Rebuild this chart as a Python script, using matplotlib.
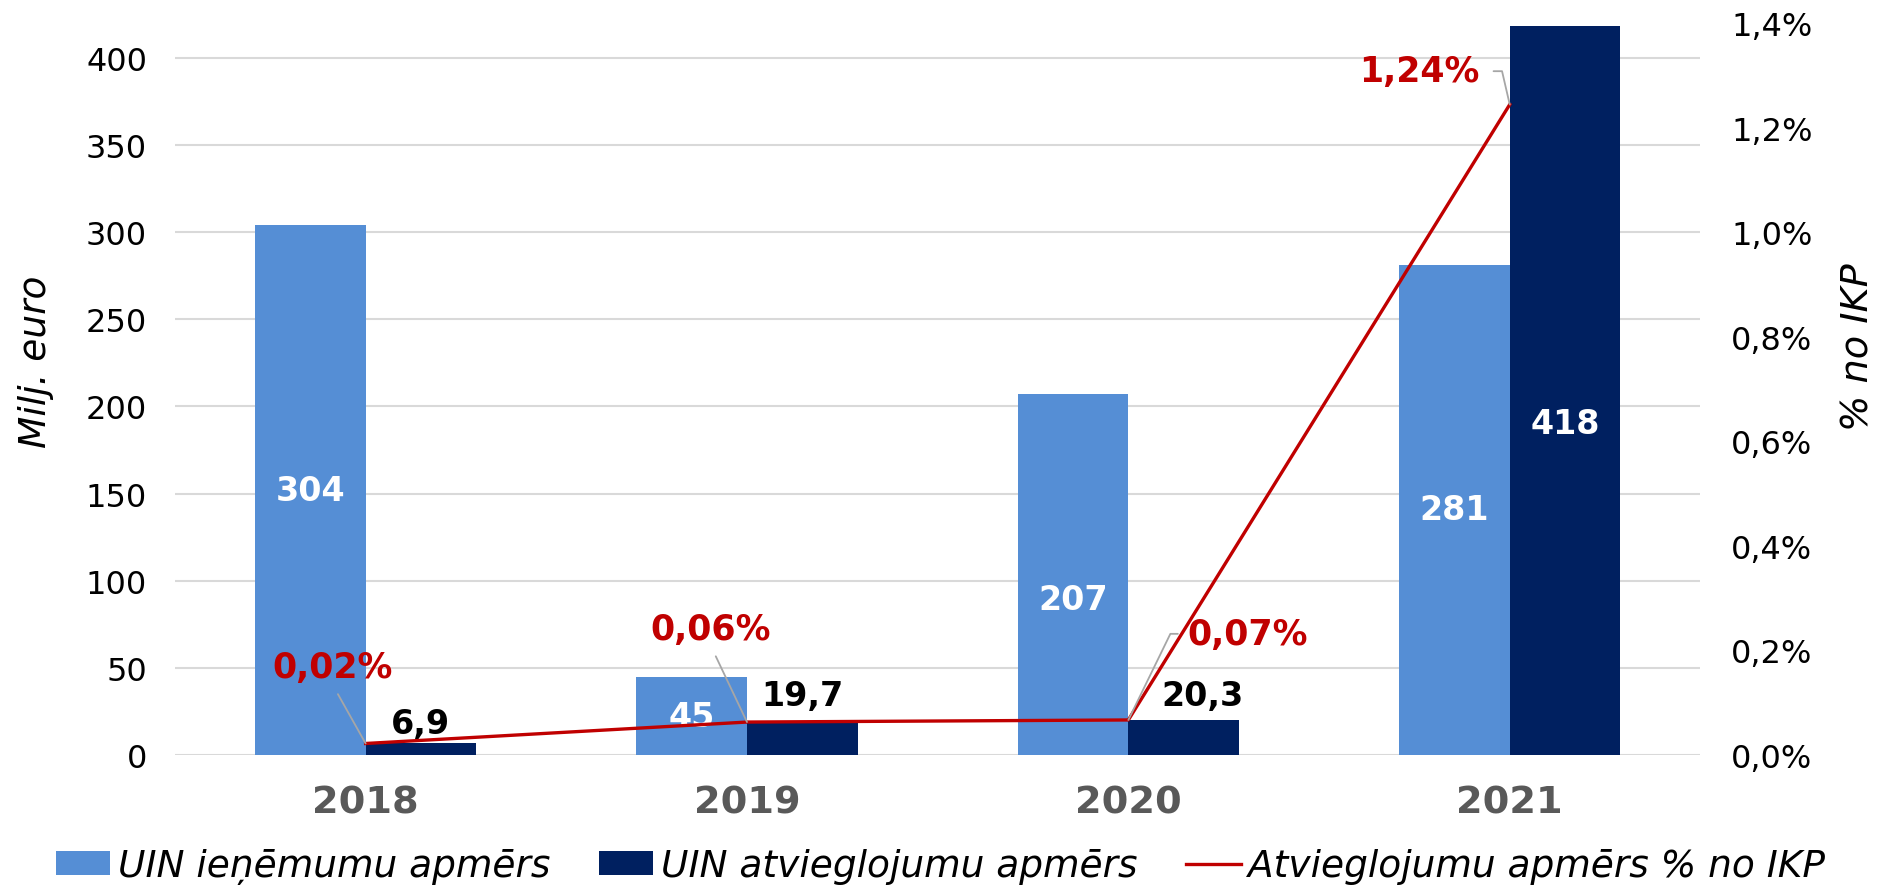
import matplotlib
matplotlib.use("Agg")
import matplotlib.pyplot as plt
import numpy as np

years = ["2018", "2019", "2020", "2021"]
revenue = [304, 45, 207, 281]          # UIN ieņēmumu apmērs
relief = [6.9, 19.7, 20.3, 418]        # UIN atvieglojumu apmērs
relief_pct = [0.022, 0.063, 0.067, 1.244]  # Atvieglojumu apmērs % no IKP

labels_legend = ["UIN ieņēmumu apmērs", "UIN atvieglojumu apmērs",
                 "Atvieglojumu apmērs % no IKP"]

c_light = "#558ED5"
c_dark = "#002060"
c_red = "#C00000"

plt.rcParams['font.family'] = ['DejaVu Sans']

fig = plt.figure(figsize=(18.81, 8.87), dpi=100)
ax = fig.add_axes([0.093, 0.1477, 0.811, 0.8253])
ax2 = ax.twinx()

x = np.arange(len(years))
w = 0.29
b1 = ax.bar(x - w / 2, revenue, w, color=c_light, label=labels_legend[0], zorder=2)
b2 = ax.bar(x + w / 2, relief, w, color=c_dark, label=labels_legend[1], zorder=2)

ax.set_xlim(-0.5, 3.5)
ax.set_ylim(0, 420)
ax.set_yticks(np.arange(0, 401, 50))
ax.grid(axis='y', color='#d9d9d9', linewidth=1.5, zorder=0)
ax.set_axisbelow(True)
for s in ax.spines.values():
    s.set_visible(False)
for s in ax2.spines.values():
    s.set_visible(False)
ax.tick_params(axis='y', length=0, labelsize=23, pad=20, colors='#000000')
ax.tick_params(axis='x', length=0, pad=21)
ax.set_xticks(x)
ax.set_xticklabels(years, fontsize=27.5, fontweight='bold', color='#595959')
ax.set_ylabel("Milj. euro", fontsize=27, style='italic')
ax.yaxis.set_label_coords(-0.079, 0.538)

ax2.set_ylim(0, 1.4)
ax2.set_yticks(np.arange(0, 1.41, 0.2))
ax2.set_yticklabels([f"{v:.1f}%".replace('.', ',') for v in np.arange(0, 1.41, 0.2)])
ax2.tick_params(axis='y', length=0, labelsize=23, pad=22)
ax2.set_ylabel("% no IKP", fontsize=27.5, style='italic', rotation=90)
ax2.yaxis.set_label_coords(1.092, 0.559)

line, = ax2.plot(x, relief_pct, color=c_red, linewidth=2.4, label=labels_legend[2], zorder=3)

# bar value labels
rev_label_y = [152, 22, 89, 141]
for xi, v, ly in zip(x, revenue, rev_label_y):
    ax.text(xi - w / 2, ly, f"{v}", ha='center', va='center', color='white',
            fontsize=24, fontweight='bold', zorder=5)
rel_label_y = [18, 34, 34, 190]
for i, (xi, v, ly) in enumerate(zip(x, relief, rel_label_y)):
    txt = f"{v:g}".replace('.', ',')
    col = 'white' if v > 100 else 'black'
    dx = 0.05 if i == 2 else 0
    ax.text(xi + w / 2 + dx, ly, txt, ha='center', va='center', color=col,
            fontsize=24, fontweight='bold', zorder=5)

# line labels with leader lines
offsets = [(-24, 55), (-26, 67), (86, 62), (-65, 24)]
leader = [
    dict(relpos=(0.5, 0.0), connectionstyle="arc3", shrinkA=6),
    dict(relpos=(0.5, 0.0), connectionstyle="arc3", shrinkA=6),
    dict(relpos=(0.0, 0.5), connectionstyle="angle,angleA=0,angleB=64,rad=0", shrinkA=5),
    dict(relpos=(1.0, 0.5), connectionstyle="angle,angleA=0,angleB=103,rad=0", shrinkA=8),
]
for xi, v, off, ld in zip(x, relief_pct, offsets, leader):
    txt = f"{v:.2f}%".replace('.', ',')
    ax2.annotate(txt, xy=(xi, v), xytext=off, textcoords='offset points',
                 ha='center', va='center', color=c_red, fontsize=25,
                 fontweight='bold', zorder=6,
                 arrowprops=dict(arrowstyle='-', color='#a6a6a6', lw=1.3,
                                 shrinkB=0, **ld))

handles = [b1, b2, line]
fig.legend(handles, labels_legend, loc='center', bbox_to_anchor=(0.5, 0.022),
           ncol=3, frameon=False, handlelength=1.45, handleheight=0.6,
           handletextpad=0.2, columnspacing=1.3,
           prop={'size': 27, 'style': 'italic'})

fig.savefig("out.png", dpi=100)
